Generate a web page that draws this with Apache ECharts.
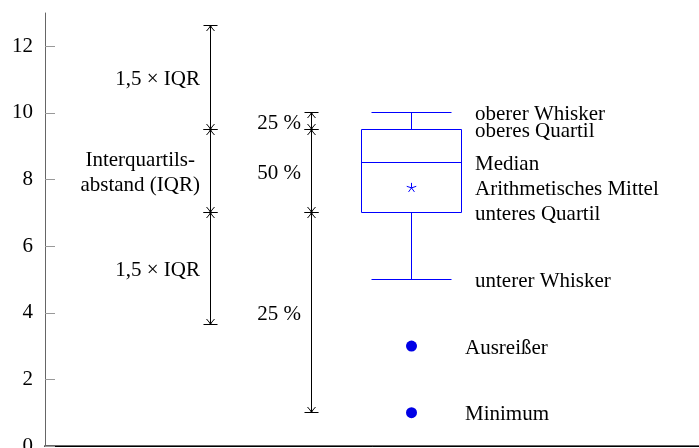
<!DOCTYPE html>
<html><head><meta charset="utf-8">
<script src="https://cdn.jsdelivr.net/npm/echarts@6/dist/echarts.min.js"></script>
<style>html,body{margin:0;padding:0;background:#fff}#c{width:699px;height:448px}</style>
</head><body><div id="c"></div>
<script>
// ---- data ----
const yTickValues = [0, 2, 4, 6, 8, 10, 12];
// box plot statistics: lower whisker, Q1, median, Q3, upper whisker
const boxStats = [5, 7, 8.5, 9.5, 10];
const meanValue = 7.75;
const outlierValues = [3, 1];
const boxPosition = 3.665;
// dimension lines (break points, bottom to top)
const iqrBreaks = [3.65, 7, 9.5, 12.63];
const iqrPosition = 1.655;
const pctBreaks = [1, 7, 9.5, 10];
const pctPosition = 2.665;
// labels
const iqrLabels = ['1,5 × IQR', 'Interquartils-\nabstand (IQR)', '1,5 × IQR'];
const pctLabels = ['25 %', '50 %', '25 %'];
const boxLabels = ['unterer Whisker', 'unteres Quartil', 'Median', 'oberes Quartil', 'oberer Whisker'];
const meanLabel = 'Arithmetisches Mittel';
const outlierLabels = ['Ausreißer', 'Minimum'];

// ---- styling constants ----
const FONT = "Liberation Serif";
const FS = 21;
const BLUE = '#0000ff';
const boxHalfWidth = 0.5, capHalfWidth = 0.4;
const dimLabelGap = 0.105, boxLabelGap = 0.135, outlierLabelGap = 0.035;
const textDy = 2;

const crisp = v => Math.round(v - 0.5) + 0.5;

function segments(breaks, x) {
  const out = [];
  for (let i = 0; i < breaks.length - 1; i++) out.push([x, breaks[i], breaks[i + 1]]);
  return out;
}
const dimData = segments(iqrBreaks, iqrPosition).concat(segments(pctBreaks, pctPosition));

function arrowHead(cx, tipY, dir) { // dir = +1 barbs below tip, -1 barbs above
  const aw = 4, al = 5.5;
  const st = { stroke: '#000', lineWidth: 1, fill: null };
  return [
    { type: 'bezierCurve', shape: { x1: cx - aw, y1: tipY + dir * al, x2: cx, y2: tipY, cpx1: cx - 0.8, cpy1: tipY + dir * 2.2 }, style: st },
    { type: 'bezierCurve', shape: { x1: cx + aw, y1: tipY + dir * al, x2: cx, y2: tipY, cpx1: cx + 0.8, cpy1: tipY + dir * 2.2 }, style: st }
  ];
}

function renderDim(params, api) {
  const x = api.value(0);
  const pb = api.coord([x, api.value(1)]);
  const pt = api.coord([x, api.value(2)]);
  const cx = crisp(pb[0]);
  const yb = crisp(pb[1]), yt = crisp(pt[1]);
  const bw = 7;
  const st = { stroke: '#000', lineWidth: 1 };
  const children = [
    { type: 'line', shape: { x1: cx, y1: yb, x2: cx, y2: yt }, style: st },
    { type: 'line', shape: { x1: cx - bw, y1: yb, x2: cx + bw, y2: yb }, style: st },
    { type: 'line', shape: { x1: cx - bw, y1: yt, x2: cx + bw, y2: yt }, style: st }
  ].concat(arrowHead(cx, yb, -1), arrowHead(cx, yt, 1));
  return { type: 'group', children };
}

function renderBox(params, api) {
  const x = api.value(0);
  const v = [1, 2, 3, 4, 5].map(i => api.value(i));
  const cx = api.coord([x, v[2]])[0];
  const half = api.size([boxHalfWidth, 0])[0];
  const cap = api.size([capHalfWidth, 0])[0];
  const y = v.map(val => crisp(api.coord([x, val])[1]));
  const c = crisp(cx);
  const st = { stroke: BLUE, lineWidth: 1, fill: null };
  const l = crisp(cx - half), r = crisp(cx + half);
  return { type: 'group', children: [
    { type: 'rect', shape: { x: l, y: y[3], width: r - l, height: y[1] - y[3] }, style: { stroke: BLUE, lineWidth: 1, fill: 'none' } },
    { type: 'line', shape: { x1: l, y1: y[2], x2: r, y2: y[2] }, style: st },
    { type: 'line', shape: { x1: c, y1: y[3], x2: c, y2: y[4] }, style: st },
    { type: 'line', shape: { x1: c, y1: y[1], x2: c, y2: y[0] }, style: st },
    { type: 'line', shape: { x1: crisp(cx - cap), y1: y[4], x2: crisp(cx + cap), y2: y[4] }, style: st },
    { type: 'line', shape: { x1: crisp(cx - cap), y1: y[0], x2: crisp(cx + cap), y2: y[0] }, style: st }
  ]};
}

function renderStar(params, api) {
  const p = api.coord([api.value(0), api.value(1)]);
  const r = 5, children = [];
  for (let k = 0; k < 5; k++) {
    const a = -Math.PI / 2 + k * 2 * Math.PI / 5;
    children.push({ type: 'line', shape: { x1: p[0], y1: p[1], x2: p[0] + r * Math.cos(a), y2: p[1] + r * Math.sin(a) }, style: { stroke: BLUE, lineWidth: 1 } });
  }
  return { type: 'group', children };
}

// measure text for centered multi-line block anchored on the right
const mctx = document.createElement('canvas').getContext('2d');
mctx.font = FS + 'px ' + FONT;
function blockWidth(t) { return Math.max.apply(null, t.split('\n').map(s => mctx.measureText(s).width)); }

// text annotations: [x, y] + text/alignment
const texts = [];
const mid = (b, i) => (b[i] + b[i + 1]) / 2;
iqrLabels.forEach((t, i) => texts.push({ x: iqrPosition - dimLabelGap, y: mid(iqrBreaks, i), text: t, align: 'right' }));
pctLabels.forEach((t, i) => texts.push({ x: pctPosition - dimLabelGap, y: mid(pctBreaks, i), text: t, align: 'right' }));
boxLabels.forEach((t, i) => texts.push({ x: boxPosition + boxHalfWidth + boxLabelGap, y: boxStats[i], text: t, align: 'left' }));
texts.push({ x: boxPosition + boxHalfWidth + boxLabelGap, y: meanValue, text: meanLabel, align: 'left' });
outlierLabels.forEach((t, i) => texts.push({ x: boxPosition + boxHalfWidth + outlierLabelGap, y: outlierValues[i], text: t, align: 'left' }));

function renderText(params, api) {
  const item = texts[params.dataIndex];
  const p = api.coord([api.value(0), api.value(1)]);
  let x = p[0], align = item.align;
  if (item.text.indexOf('\n') >= 0 && align === 'right') { x = p[0] - blockWidth(item.text) / 2; align = 'center'; }
  return { type: 'text', x: x, y: p[1] + textDy, style: { text: item.text, fontFamily: FONT, fontSize: FS, fill: '#000', align: align, verticalAlign: 'middle', lineHeight: 25 } };
}

const chart = echarts.init(document.getElementById('c'), null, { renderer: 'canvas' });
chart.setOption({
  animation: false,
  backgroundColor: '#fff',
  textStyle: { fontFamily: FONT, fontSize: FS, color: '#000' },
  grid: { left: 45, top: 13, width: 700, height: 433, containLabel: false, outerBoundsMode: 'none' },
  xAxis: [
    { type: 'value', min: 0, max: 7, position: 'bottom', axisLine: { show: true, onZero: false, lineStyle: { color: '#666', width: 2 } }, axisTick: { show: false }, axisLabel: { show: false }, splitLine: { show: false } },
    { type: 'value', min: 0, max: 7, position: 'top', axisLine: { show: true, lineStyle: { color: '#000', width: 1 } }, axisTick: { show: false }, axisLabel: { show: false }, splitLine: { show: false } }
  ],
  yAxis: {
    type: 'value', min: 0, max: 13, interval: 2,
    axisLine: { show: true, lineStyle: { color: '#666', width: 1 } },
    axisTick: { show: true, inside: true, length: 10, lineStyle: { color: '#999' }, customValues: yTickValues },
    axisLabel: { color: '#000', fontFamily: FONT, fontSize: FS, margin: 12, customValues: yTickValues, formatter: v => (v % 2 === 0 ? String(v) : '') },
    splitLine: { show: false }
  },
  series: [
    { type: 'custom', renderItem: renderDim, data: dimData, z: 3, silent: true },
    { type: 'custom', renderItem: renderBox, data: [[boxPosition].concat(boxStats)], z: 3, silent: true },
    { type: 'custom', renderItem: renderStar, data: [[boxPosition, meanValue]], z: 3, silent: true },
    { type: 'scatter', data: outlierValues.map(v => [boxPosition, v]), symbol: 'circle', symbolSize: 11, itemStyle: { color: '#0000e6', opacity: 1 }, z: 3, silent: true },
    { type: 'custom', renderItem: renderText, data: texts.map(t => [t.x, t.y]), z: 4, silent: true }
  ]
});
</script></body></html>
